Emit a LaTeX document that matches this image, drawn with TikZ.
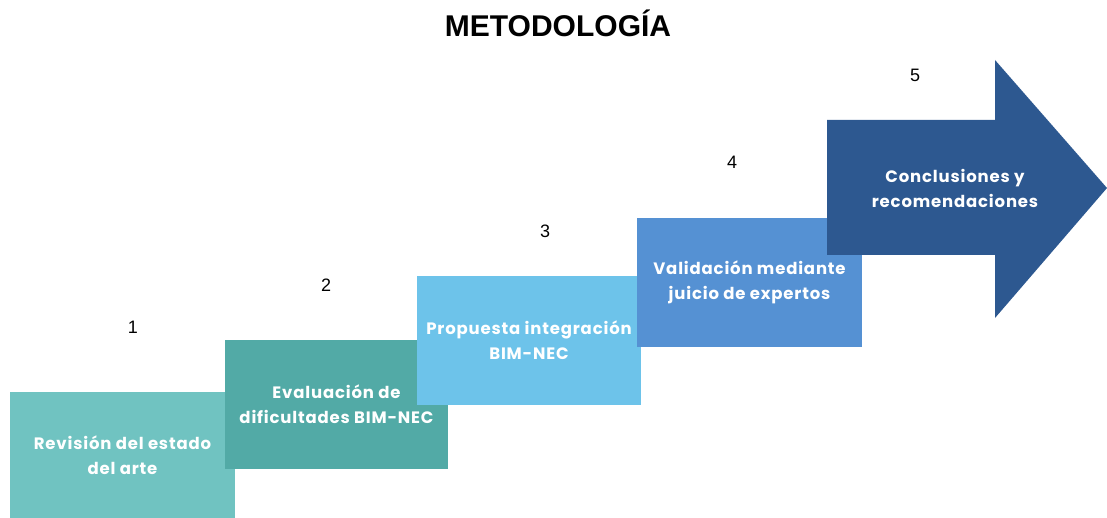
\documentclass[tikz,border=0pt]{standalone}
\usepackage{fontspec}
\setmainfont{Liberation Sans}
\newfontfamily\stepfont{Poppins}[LetterSpace=5]
\definecolor{stepone}{HTML}{70C3C1}
\definecolor{steptwo}{HTML}{52AAA6}
\definecolor{stepthree}{HTML}{6DC3EA}
\definecolor{stepfour}{HTML}{5591D3}
\definecolor{stepfive}{HTML}{2D5890}
\tikzset{
  stepbox/.style={rectangle, inner sep=0pt, text=white, align=center,
    font=\stepfont\bfseries\fontsize{16.5}{25}\selectfont},
  stepnum/.style={font=\fontsize{18}{20}\selectfont}
}
\begin{document}
\begin{tikzpicture}[x=1pt,y=-1pt]
   \useasboundingbox (0,0) rectangle (1107,518);
   \node[font=\bfseries\fontsize{30}{36}\selectfont] (title) at (558,23) {METODOLOGÍA};
   \draw (122.5,455.5) node[stepbox, fill=stepone, minimum height=127, minimum width=225] (revision) {Revisión del estado\\del arte};
   \draw (336.5,404.5) node[stepbox, fill=steptwo, minimum height=129, minimum width=223] (evaluacion) {Evaluación de\\dificultades BIM-NEC};
   \draw (529,340.5) node[stepbox, fill=stepthree, minimum height=129, minimum width=224] (propuesta) {Propuesta integración\\BIM-NEC};
   \draw (749.5,282.5) node[stepbox, fill=stepfour, minimum height=129, minimum width=225] (validacion) {Validación mediante\\juicio de expertos};
   \fill[stepfive] (827,120) -- (995,120) -- (995,60) -- (1107,188) -- (995,318) -- (995,255) -- (827,255) -- cycle;
   \node[stepbox] (conclusiones) at (955,188) {Conclusiones y\\recomendaciones};
   \node[stepnum] (one) at (133,327) {1};
   \node[stepnum] (two) at (326,285) {2};
   \node[stepnum] (three) at (545,231) {3};
   \node[stepnum] (four) at (732,162) {4};
   \node[stepnum] (five) at (915,75) {5};
\end{tikzpicture}
\end{document}
